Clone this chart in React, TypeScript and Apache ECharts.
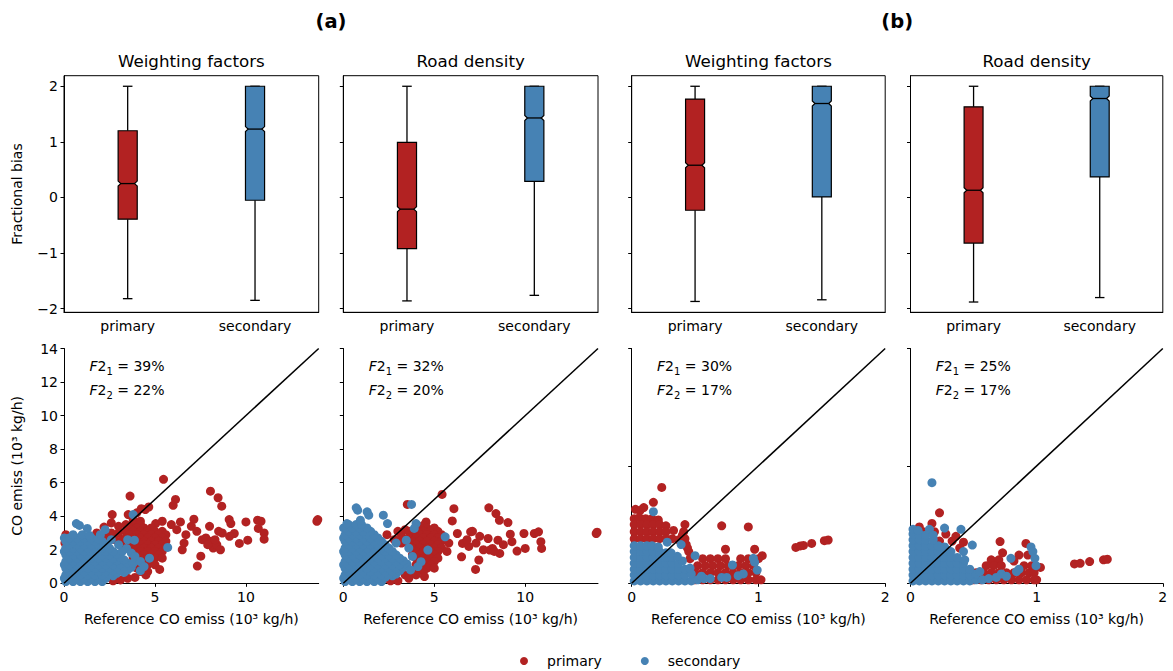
import React, { useEffect, useRef } from 'react';
import * as echarts from 'echarts';

const RED = '#b22222';
const BLUE = '#4682b4';
const FONT = 'DejaVu Sans';

const categories = ['primary', 'secondary'];
const panelTitles = ['Weighting factors', 'Road density', 'Weighting factors', 'Road density'];
const groupLabels = ['(a)', '(b)'];
const f2One = [39, 32, 30, 25];
const f2Two = [22, 20, 17, 17];

// box stats: [low whisker, Q1, median, Q3, high whisker]
const boxWfA_primary = [-1.82, -0.39, 0.25, 1.2, 2.0];
const boxWfA_secondary = [-1.85, -0.05, 1.23, 2.0, 2.0];
const boxRdA_primary = [-1.86, -0.92, -0.21, 0.99, 2.0];
const boxRdA_secondary = [-1.76, 0.29, 1.43, 2.0, 2.0];
const boxWfB_primary = [-1.87, -0.23, 0.58, 1.77, 2.0];
const boxWfB_secondary = [-1.84, 0.01, 1.69, 2.0, 2.0];
const boxRdB_primary = [-1.88, -0.82, 0.13, 1.63, 2.0];
const boxRdB_secondary = [-1.8, 0.37, 1.78, 2.0, 2.0];
const NOTCH = 0.045;

const fbTicks = [-2, -1, 0, 1, 2];
const xTicksA = [0, 5, 10];
const xTicksB = [0, 1, 2];

const p1Pri = [
  [0.1, 2.9], [0.05, 2.4],
  [2.7, 0.15], [3.1, 0.2], [3.5, 0.3], [3.9, 0.35], [2.5, 0.35],
  [1.8, 3.0], [2.2, 3.35], [2.65, 4.1], [2.6, 3.6], [3.0, 3.4], [3.0, 3.0], [2.6, 3.0], [2.3, 2.8], [2.8, 2.6], [3.2, 2.6], [3.2, 2.2],
  [3.53, 4.1], [3.63, 5.2], [3.8, 3.8], [4.0, 4.2], [4.25, 4.45], [4.47, 4.4], [4.66, 4.55], [4.2, 3.7],
  [3.4, 3.5], [3.8, 3.5], [4.2, 3.5], [5.04, 3.56], [5.4, 3.7],
  [3.6, 3.3], [4.0, 3.3], [4.4, 3.3], [4.8, 3.3],
  [3.4, 3.1], [3.8, 3.1], [4.2, 3.1], [4.6, 3.1], [5.0, 3.1], [5.4, 3.1],
  [3.6, 2.9], [4.0, 2.9], [4.4, 2.9], [4.8, 2.9], [5.2, 2.9], [5.6, 2.9],
  [3.4, 2.7], [3.8, 2.7], [4.2, 2.7], [4.6, 2.7], [5.0, 2.7], [5.4, 2.7],
  [3.6, 2.5], [4.0, 2.5], [4.4, 2.5], [4.8, 2.5], [5.2, 2.5], [5.6, 2.5],
  [3.8, 2.3], [4.2, 2.3], [4.6, 2.3], [5.0, 2.3], [5.4, 2.3],
  [3.6, 2.1], [4.0, 2.1], [4.4, 2.1], [4.8, 2.1], [5.2, 2.1],
  [3.8, 1.9], [4.2, 1.9], [4.6, 1.9], [5.0, 1.9], [5.4, 1.9],
  [4.0, 1.7], [4.4, 1.7], [4.8, 1.7], [5.2, 1.7],
  [3.8, 1.5], [4.2, 1.5], [4.6, 1.5], [5.0, 1.5],
  [4.0, 1.3], [4.4, 1.3], [4.8, 1.3],
  [4.2, 1.1], [4.6, 1.1], [5.0, 1.1],
  [4.0, 0.9], [4.4, 0.9], [5.26, 0.83],
  [4.2, 0.7], [4.6, 0.7], [4.5, 0.5],
  [5.9, 3.5], [6.2, 3.2], [6.4, 3.66], [5.6, 2.18], [5.4, 1.5], [6.0, 4.65], [6.13, 5.0], [5.47, 6.2],
  [7.14, 3.82], [7.0, 3.4], [7.3, 3.1], [6.7, 2.9], [6.6, 2.4], [6.5, 2.0], [7.52, 1.62], [7.33, 1.03], [7.6, 2.6], [7.8, 2.7], [8.1, 2.5], [8.2, 2.1], [8.4, 2.3], [8.6, 2.0], [8.7, 3.0], [8.5, 3.1], [8.05, 5.49], [8.47, 5.1], [8.67, 4.6], [9.08, 3.8], [9.17, 3.56], [10.0, 3.66], [10.64, 3.76], [10.83, 3.7], [10.68, 3.27], [11.0, 3.0], [11.0, 2.63], [10.1, 2.57], [9.64, 2.38], [9.36, 2.97], [9.1, 2.8], [8.0, 3.4], [7.9, 2.3], [8.3, 2.6], [13.9, 3.7], [13.95, 3.8],
];
const p1Sec = [
  [0.02, 0.3], [0.02, 1.1], [0.02, 1.9], [0.02, 2.7],
  [0.1, 0.1], [0.5, 0.1], [0.9, 0.1], [1.3, 0.1], [1.7, 0.1], [2.1, 0.1],
  [0.3, 0.3], [0.7, 0.3], [1.1, 0.3], [1.5, 0.3], [1.9, 0.3], [2.3, 0.3], [2.7, 0.45],
  [0.1, 0.5], [0.5, 0.5], [0.9, 0.5], [1.3, 0.5], [1.7, 0.5], [2.1, 0.5], [2.5, 0.55], [2.9, 0.6], [3.3, 0.65],
  [0.3, 0.7], [0.7, 0.7], [1.1, 0.7], [1.5, 0.7], [1.9, 0.7], [2.3, 0.7], [2.7, 0.75], [3.1, 0.8], [3.5, 0.8],
  [0.1, 0.9], [0.5, 0.9], [0.9, 0.9], [1.3, 0.9], [1.7, 0.9], [2.1, 0.9], [2.5, 0.9], [2.9, 0.95], [3.3, 1.0], [3.7, 0.95],
  [0.3, 1.1], [0.7, 1.1], [1.1, 1.1], [1.5, 1.1], [1.9, 1.1], [2.3, 1.1], [2.7, 1.1], [3.1, 1.15], [3.5, 1.2],
  [0.1, 1.3], [0.5, 1.3], [0.9, 1.3], [1.3, 1.3], [1.7, 1.3], [2.1, 1.3], [2.5, 1.3], [2.9, 1.35], [3.3, 1.4],
  [0.3, 1.5], [0.7, 1.5], [1.1, 1.5], [1.5, 1.5], [1.9, 1.5], [2.3, 1.5], [2.7, 1.5], [3.1, 1.55],
  [0.1, 1.7], [0.5, 1.7], [0.9, 1.7], [1.3, 1.7], [1.7, 1.7], [2.1, 1.7], [2.5, 1.7], [2.9, 1.75],
  [0.3, 1.9], [0.7, 1.9], [1.1, 1.9], [1.5, 1.9], [1.9, 1.9], [2.3, 1.9], [2.7, 1.9],
  [0.1, 2.1], [0.5, 2.1], [0.9, 2.1], [1.3, 2.1], [1.7, 2.1], [2.1, 2.1], [2.5, 2.1],
  [0.3, 2.3], [0.7, 2.3], [1.1, 2.3], [1.5, 2.3], [1.9, 2.3], [2.3, 2.3],
  [0.1, 2.5], [0.5, 2.5], [0.9, 2.5], [1.3, 2.5], [1.7, 2.5], [2.1, 2.5],
  [0.3, 2.7], [0.7, 2.7], [1.1, 2.7], [1.5, 2.7], [1.9, 2.65],
  [0.5, 2.9], [1.0, 2.9], [1.4, 2.85],
  [0.68, 3.56], [0.85, 3.45], [1.28, 3.27], [2.26, 3.2], [2.0, 2.9], [2.6, 2.6],
  [3.8, 4.1], [3.5, 2.6], [3.87, 2.57], [3.44, 2.08], [3.7, 1.8], [3.9, 1.6], [3.2, 1.9], [3.8, 1.2], [4.2, 1.3], [4.2, 0.75], [4.4, 1.0], [4.7, 1.5], [5.7, 2.14], [3.0, 2.3],
];
const p2Pri = [
  [3.52, 4.7], [5.43, 5.3], [6.08, 4.45], [5.99, 3.72], [4.55, 3.66], [4.4, 3.45],
  [2.4, 2.9], [2.8, 2.6], [3.2, 2.8], [3.0, 3.1], [3.4, 3.2], [3.2, 2.4],
  [4.2, 3.3], [4.6, 3.3], [5.0, 3.3],
  [3.6, 3.1], [4.0, 3.1], [4.4, 3.1], [4.8, 3.1], [5.2, 3.1],
  [3.8, 2.9], [4.2, 2.9], [4.6, 2.9], [5.0, 2.9], [5.4, 2.9],
  [3.6, 2.7], [4.0, 2.7], [4.4, 2.7], [4.8, 2.7], [5.2, 2.7],
  [3.8, 2.5], [4.2, 2.5], [4.6, 2.5], [5.0, 2.5], [5.4, 2.5],
  [3.6, 2.3], [4.0, 2.3], [4.4, 2.3], [4.8, 2.3], [5.2, 2.3],
  [3.8, 2.1], [4.2, 2.1], [4.6, 2.1], [5.0, 2.1], [5.4, 2.1],
  [4.0, 1.9], [4.4, 1.9], [4.8, 1.9], [5.2, 1.9],
  [3.8, 1.7], [4.2, 1.7], [4.6, 1.7], [5.0, 1.7],
  [4.0, 1.5], [4.4, 1.5], [4.8, 1.5], [5.2, 1.5],
  [4.2, 1.3], [4.6, 1.3], [5.0, 1.3],
  [4.0, 1.1], [4.4, 1.1], [4.8, 1.1],
  [4.2, 0.9], [4.6, 0.9], [5.0, 0.9],
  [3.8, 0.7], [4.4, 0.7],
  [3.4, 0.5], [4.0, 0.5],
  [2.4, 0.3], [2.8, 0.3], [3.6, 0.3], [4.46, 0.4],
  [2.6, 0.15], [3.0, 0.15],
  [6.27, 2.97], [6.55, 2.38], [6.5, 1.58], [7.0, 3.07], [7.1, 3.1], [7.27, 0.83], [7.45, 1.39], [7.96, 2.67], [8.0, 4.5], [8.39, 4.16], [8.58, 3.76], [9.05, 3.62], [9.18, 2.93], [9.27, 2.48], [8.5, 2.57], [8.2, 2.08], [8.6, 1.78], [8.05, 1.98], [9.55, 1.92], [10.0, 2.08], [9.93, 2.97], [10.5, 2.97], [10.73, 3.07], [10.86, 2.48], [10.9, 2.08], [7.5, 2.8], [7.3, 2.4], [6.9, 2.2], [6.8, 2.6], [7.7, 2.0], [8.3, 1.9], [8.8, 2.3], [5.8, 2.4], [5.7, 1.9], [13.9, 2.97], [13.95, 3.05],
];
const p2Sec = [
  [0.02, 0.3], [0.02, 1.1], [0.02, 1.9], [0.02, 2.7], [0.02, 3.3],
  [0.1, 0.1], [0.5, 0.1], [0.9, 0.1], [1.3, 0.1], [1.7, 0.1], [2.1, 0.1],
  [0.3, 0.3], [0.7, 0.3], [1.1, 0.3], [1.5, 0.3], [1.9, 0.3], [2.3, 0.35], [2.7, 0.45],
  [0.1, 0.5], [0.5, 0.5], [0.9, 0.5], [1.3, 0.5], [1.7, 0.5], [2.1, 0.5], [2.5, 0.5], [2.9, 0.55],
  [0.3, 0.7], [0.7, 0.7], [1.1, 0.7], [1.5, 0.7], [1.9, 0.7], [2.3, 0.7], [2.7, 0.7], [3.1, 0.75],
  [0.1, 0.9], [0.5, 0.9], [0.9, 0.9], [1.3, 0.9], [1.7, 0.9], [2.1, 0.9], [2.5, 0.9], [2.9, 0.9], [3.3, 0.95],
  [0.3, 1.1], [0.7, 1.1], [1.1, 1.1], [1.5, 1.1], [1.9, 1.1], [2.3, 1.1], [2.7, 1.1], [3.1, 1.1], [3.5, 1.15],
  [0.1, 1.3], [0.5, 1.3], [0.9, 1.3], [1.3, 1.3], [1.7, 1.3], [2.1, 1.3], [2.5, 1.3], [2.9, 1.3], [3.3, 1.35],
  [0.3, 1.5], [0.7, 1.5], [1.1, 1.5], [1.5, 1.5], [1.9, 1.5], [2.3, 1.5], [2.7, 1.5], [3.1, 1.5],
  [0.1, 1.7], [0.5, 1.7], [0.9, 1.7], [1.3, 1.7], [1.7, 1.7], [2.1, 1.7], [2.5, 1.7], [2.9, 1.7],
  [0.3, 1.9], [0.7, 1.9], [1.1, 1.9], [1.5, 1.9], [1.9, 1.9], [2.3, 1.9], [2.7, 1.9],
  [0.1, 2.1], [0.5, 2.1], [0.9, 2.1], [1.3, 2.1], [1.7, 2.1], [2.1, 2.1], [2.5, 2.1],
  [0.3, 2.3], [0.7, 2.3], [1.1, 2.3], [1.5, 2.3], [1.9, 2.3], [2.3, 2.3],
  [0.1, 2.5], [0.5, 2.5], [0.9, 2.5], [1.3, 2.5], [1.7, 2.5], [2.1, 2.5],
  [0.3, 2.7], [0.7, 2.7], [1.1, 2.7], [1.5, 2.7], [1.9, 2.7],
  [0.1, 2.9], [0.5, 2.9], [0.9, 2.9], [1.3, 2.9], [1.7, 2.9],
  [0.3, 3.1], [0.7, 3.1], [1.1, 3.1], [1.5, 3.1],
  [0.1, 3.3], [0.5, 3.3], [0.9, 3.3], [1.3, 3.3],
  [0.3, 3.5], [0.7, 3.5], [1.0, 3.5],
  [0.2, 3.56], [0.94, 3.76], [0.71, 4.5], [0.79, 4.36], [1.31, 4.26], [1.4, 4.06], [2.2, 4.06], [3.75, 4.7], [2.43, 3.56], [4.0, 3.56], [3.9, 3.27], [5.6, 2.77], [4.65, 1.98], [4.27, 1.29], [3.46, 2.57], [3.6, 2.1], [3.8, 1.6], [4.1, 1.0], [3.7, 0.8], [2.9, 2.4],
];
const p3Pri = [
  [0.237, 0.817], [0.171, 0.69], [0.03, 0.63], [0.066, 0.62], [0.095, 0.645],
  [0.02, 0.55], [0.06, 0.56], [0.11, 0.55], [0.16, 0.55], [0.21, 0.54],
  [0.02, 0.5], [0.07, 0.5], [0.12, 0.5], [0.17, 0.5], [0.22, 0.5], [0.27, 0.49], [0.42, 0.5],
  [0.02, 0.44], [0.07, 0.44], [0.12, 0.44], [0.17, 0.44], [0.22, 0.44], [0.27, 0.44], [0.33, 0.45], [0.41, 0.44],
  [0.02, 0.38], [0.07, 0.38], [0.12, 0.38], [0.17, 0.38], [0.22, 0.38], [0.27, 0.38], [0.32, 0.38], [0.37, 0.37], [0.42, 0.38],
  [0.4, 0.41], [0.43, 0.33], [0.45, 0.27], [0.46, 0.21], [0.44, 0.3],
  [0.71, 0.49], [0.92, 0.48], [0.74, 0.29], [0.97, 0.29], [1.03, 0.235],
  [0.56, 0.21], [0.62, 0.21], [0.68, 0.21], [0.74, 0.21], [0.86, 0.21], [0.92, 0.21], [1.0, 0.21],
  [0.52, 0.15], [0.58, 0.15], [0.64, 0.15], [0.7, 0.15], [0.76, 0.15], [0.84, 0.15], [0.9, 0.15], [0.96, 0.15],
  [0.5, 0.09], [0.56, 0.09], [0.62, 0.09], [0.68, 0.09], [0.74, 0.09], [0.8, 0.09], [0.86, 0.09], [0.92, 0.09], [0.98, 0.09],
  [0.5, 0.03], [0.56, 0.03], [0.62, 0.03], [0.68, 0.03], [0.74, 0.03], [0.8, 0.03], [0.86, 0.03], [0.92, 0.03], [0.98, 0.03], [1.02, 0.03],
  [1.295, 0.306], [1.33, 0.318], [1.355, 0.323], [1.42, 0.34], [1.52, 0.363], [1.55, 0.369],
];
const p3Sec = [
  [0.02, 0.02], [0.07, 0.02], [0.12, 0.02], [0.17, 0.02], [0.22, 0.02], [0.27, 0.02], [0.32, 0.02], [0.37, 0.02], [0.42, 0.02], [0.47, 0.02], [0.52, 0.03], [0.57, 0.04],
  [0.02, 0.07], [0.07, 0.07], [0.12, 0.07], [0.17, 0.07], [0.22, 0.07], [0.27, 0.07], [0.32, 0.07], [0.37, 0.07], [0.42, 0.07], [0.47, 0.08],
  [0.02, 0.12], [0.07, 0.12], [0.12, 0.12], [0.17, 0.12], [0.22, 0.12], [0.27, 0.12], [0.32, 0.12], [0.37, 0.12], [0.42, 0.12], [0.46, 0.13],
  [0.02, 0.17], [0.07, 0.17], [0.12, 0.17], [0.17, 0.17], [0.22, 0.17], [0.27, 0.17], [0.32, 0.17], [0.37, 0.17], [0.4, 0.19],
  [0.02, 0.22], [0.07, 0.22], [0.12, 0.22], [0.17, 0.22], [0.22, 0.22], [0.27, 0.22], [0.32, 0.22], [0.36, 0.23],
  [0.02, 0.27], [0.07, 0.27], [0.12, 0.27], [0.17, 0.27], [0.22, 0.27], [0.27, 0.26], [0.31, 0.26],
  [0.02, 0.32], [0.07, 0.32], [0.12, 0.32], [0.16, 0.32], [0.21, 0.31], [0.28, 0.35], [0.39, 0.33],
  [0.171, 0.61], [0.5, 0.235], [0.795, 0.156], [0.96, 0.213], [0.97, 0.18], [0.99, 0.113], [0.71, 0.05], [0.75, 0.05], [0.84, 0.065], [0.88, 0.08], [0.55, 0.06], [0.62, 0.04],
];
const p4Pri = [
  [0.23, 0.6], [0.17, 0.51], [0.07, 0.48], [0.1, 0.44], [0.19, 0.44], [0.23, 0.36], [0.28, 0.42], [0.12, 0.43], [0.33, 0.36], [0.39, 0.3], [0.42, 0.35], [0.36, 0.4],
  [0.71, 0.355], [0.915, 0.34], [0.73, 0.26], [0.86, 0.24], [0.93, 0.24], [1.03, 0.135], [1.0, 0.03],
  [0.64, 0.2], [0.7, 0.2], [0.82, 0.19],
  [0.6, 0.15], [0.66, 0.15], [0.72, 0.15], [0.9, 0.15], [0.96, 0.15],
  [0.52, 0.09], [0.58, 0.09], [0.64, 0.09], [0.7, 0.09], [0.76, 0.09], [0.82, 0.09], [0.88, 0.09], [0.94, 0.09], [0.98, 0.09],
  [0.5, 0.03], [0.56, 0.03], [0.62, 0.03], [0.68, 0.03], [0.74, 0.03], [0.8, 0.03], [0.86, 0.03], [0.92, 0.03], [0.98, 0.03],
  [1.3, 0.165], [1.345, 0.17], [1.42, 0.185], [1.53, 0.2], [1.56, 0.205],
];
const p4Sec = [
  [0.02, 0.02], [0.07, 0.02], [0.12, 0.02], [0.17, 0.02], [0.22, 0.02], [0.27, 0.02], [0.32, 0.02], [0.37, 0.02], [0.42, 0.02], [0.47, 0.02], [0.52, 0.03], [0.57, 0.03], [0.62, 0.04],
  [0.02, 0.07], [0.07, 0.07], [0.12, 0.07], [0.17, 0.07], [0.22, 0.07], [0.27, 0.07], [0.32, 0.07], [0.37, 0.07], [0.42, 0.07], [0.47, 0.07], [0.52, 0.08],
  [0.02, 0.12], [0.07, 0.12], [0.12, 0.12], [0.17, 0.12], [0.22, 0.12], [0.27, 0.12], [0.32, 0.12], [0.37, 0.12], [0.42, 0.12], [0.47, 0.12],
  [0.02, 0.17], [0.07, 0.17], [0.12, 0.17], [0.17, 0.17], [0.22, 0.17], [0.27, 0.17], [0.32, 0.17], [0.37, 0.17], [0.42, 0.17],
  [0.02, 0.22], [0.07, 0.22], [0.12, 0.22], [0.17, 0.22], [0.22, 0.22], [0.27, 0.22], [0.32, 0.22], [0.37, 0.22],
  [0.02, 0.27], [0.07, 0.27], [0.12, 0.27], [0.17, 0.27], [0.22, 0.27], [0.27, 0.27], [0.32, 0.27], [0.42, 0.27],
  [0.02, 0.32], [0.07, 0.32], [0.12, 0.32], [0.17, 0.32], [0.22, 0.32], [0.27, 0.31],
  [0.02, 0.37], [0.07, 0.37], [0.12, 0.37], [0.18, 0.37],
  [0.02, 0.42], [0.07, 0.42], [0.12, 0.41], [0.02, 0.46], [0.06, 0.45],
  [0.17, 0.857], [0.27, 0.47], [0.4, 0.46], [0.49, 0.326], [0.796, 0.213], [0.955, 0.31], [0.97, 0.27], [0.986, 0.213], [0.995, 0.15], [0.15, 0.46], [0.18, 0.41], [0.43, 0.2], [0.55, 0.1], [0.72, 0.08], [0.76, 0.06], [0.84, 0.1], [0.86, 0.12], [0.68, 0.05],
];
const diagA = [[0, 0], [14, 14]];
const diagB = [[0, 0], [2, 2]];

const LEFTS = [64, 343.3, 631.7, 910.5];
const WIDTHS = [254.7, 254.7, 253.5, 252.3];
const TOP_T = 75.7;
const TOP_H = 236.6;
const BOT_T = 348.5;
const BOT_H = 234.8;

const minus = (v: number) => (v < 0 ? '\u2212' + Math.abs(v) : String(v));

const renderBox = (params: any, api: any) => {
  const idx = api.value(0);
  const low = api.value(1), q1 = api.value(2), med = api.value(3), q3 = api.value(4), high = api.value(5);
  const cx = api.coord([idx, med])[0];
  const band = api.size([1, 0], [idx, 0])[0];
  const bw = band * 0.15;
  const Y = (v: number) => api.coord([idx, v])[1];
  const l = cx - bw / 2, r = cx + bw / 2;
  const nl = cx - bw * 0.36, nr = cx + bw * 0.36;
  const cl = cx - bw / 4, cr = cx + bw / 4;
  const yq1 = Y(q1), yq3 = Y(q3), ym = Y(med), ylo = Y(med - NOTCH), yhi = Y(med + NOTCH);
  const ln = { stroke: '#000', lineWidth: 1.3 };
  return {
    type: 'group',
    children: [
      { type: 'line', shape: { x1: cx, y1: yq1, x2: cx, y2: Y(low) }, style: ln },
      { type: 'line', shape: { x1: cx, y1: yq3, x2: cx, y2: Y(high) }, style: ln },
      { type: 'line', shape: { x1: cl, y1: Y(low), x2: cr, y2: Y(low) }, style: ln },
      { type: 'line', shape: { x1: cl, y1: Y(high), x2: cr, y2: Y(high) }, style: ln },
      {
        type: 'polygon',
        shape: { points: [[l, yq1], [r, yq1], [r, ylo], [nr, ym], [r, yhi], [r, yq3], [l, yq3], [l, yhi], [nl, ym], [l, ylo]] },
        style: { fill: idx === 0 ? RED : BLUE, stroke: '#000', lineWidth: 1.2 },
      },
      { type: 'line', shape: { x1: nl, y1: ym, x2: nr, y2: ym }, style: ln },
    ],
  };
};

export default function App() {
  const ref = useRef<HTMLDivElement>(null);
  useEffect(() => {
    if (!ref.current) return;
    const chart = echarts.init(ref.current, null, { renderer: 'svg' });
    const boxSets = [
      [boxWfA_primary, boxWfA_secondary],
      [boxRdA_primary, boxRdA_secondary],
      [boxWfB_primary, boxWfB_secondary],
      [boxRdB_primary, boxRdB_secondary],
    ];
    const scat = [
      [p1Pri, p1Sec],
      [p2Pri, p2Sec],
      [p3Pri, p3Sec],
      [p4Pri, p4Sec],
    ];
    const axisLineStyle = { color: '#000', width: 1 };
    const tickStyle = { color: '#000', width: 1 };
    const labelStyle = { fontSize: 14, color: '#000', fontFamily: FONT };
    const grid: any[] = [];
    const xAxis: any[] = [];
    const yAxis: any[] = [];
    const series: any[] = [];
    const graphic: any[] = [];
    for (let i = 0; i < 4; i++) {
      grid.push({ left: LEFTS[i], top: TOP_T, width: WIDTHS[i], height: TOP_H, show: true, borderColor: '#000', borderWidth: 1, backgroundColor: 'transparent' });
    }
    for (let i = 0; i < 4; i++) {
      grid.push({ left: LEFTS[i], top: BOT_T, width: WIDTHS[i], height: BOT_H, show: false });
    }
    for (let i = 0; i < 4; i++) {
      xAxis.push({
        type: 'category', gridIndex: i, data: categories,
        axisLine: { onZero: false, lineStyle: axisLineStyle },
        axisTick: { alignWithLabel: true, length: 3.5, lineStyle: tickStyle },
        axisLabel: { ...labelStyle, margin: 7 },
        splitLine: { show: false },
      });
      yAxis.push({
        type: 'value', gridIndex: i, min: -2.065, max: 2.19,
        name: i === 0 ? 'Fractional bias' : '', nameLocation: 'middle', nameGap: 40,
        nameTextStyle: { fontSize: 14, color: '#000', fontFamily: FONT },
        axisLine: { show: true, onZero: false, lineStyle: axisLineStyle },
        axisTick: { show: true, length: 3.5, lineStyle: tickStyle, customValues: fbTicks },
        axisLabel: { show: i === 0, ...labelStyle, margin: 6, customValues: fbTicks, formatter: (v: number) => minus(v) },
        splitLine: { show: false },
      });
      series.push({
        type: 'custom', xAxisIndex: i, yAxisIndex: i, renderItem: renderBox,
        encode: { x: 0, y: [1, 2, 3, 4, 5] },
        data: boxSets[i].map((b, k) => [k, ...b]),
        silent: true,
      });
    }
    for (let i = 0; i < 4; i++) {
      const g = 4 + i;
      const isA = i < 2;
      const xt = isA ? xTicksA : xTicksB;
      xAxis.push({
        type: 'value', gridIndex: g, min: 0, max: isA ? 14 : 2,
        name: 'Reference CO emiss (10\u00b3 kg/h)', nameLocation: 'middle', nameGap: 29,
        nameTextStyle: { fontSize: 14, color: '#000', fontFamily: FONT },
        axisLine: { onZero: false, lineStyle: axisLineStyle },
        axisTick: { length: 3.5, lineStyle: tickStyle, customValues: xt },
        axisLabel: { ...labelStyle, margin: 7, customValues: xt },
        splitLine: { show: false },
      });
      yAxis.push({
        type: 'value', gridIndex: g, min: 0, max: isA ? 14 : 2, interval: isA ? 2 : 1,
        name: i === 0 ? 'CO emiss (10\u00b3 kg/h)' : '', nameLocation: 'middle', nameGap: 40,
        nameTextStyle: { fontSize: 14, color: '#000', fontFamily: FONT },
        axisLine: { show: true, onZero: false, lineStyle: axisLineStyle },
        axisTick: { show: true, length: 3.5, lineStyle: tickStyle },
        axisLabel: { show: i === 0, ...labelStyle, margin: 6 },
        splitLine: { show: false },
      });
      series.push({
        type: 'scatter', name: 'primary', xAxisIndex: g, yAxisIndex: g, data: scat[i][0],
        symbol: 'circle', symbolSize: 9, itemStyle: { color: RED, opacity: 1 }, silent: true,
      });
      series.push({
        type: 'scatter', name: 'secondary', xAxisIndex: g, yAxisIndex: g, data: scat[i][1],
        symbol: 'circle', symbolSize: 9, itemStyle: { color: BLUE, opacity: 1 }, silent: true,
      });
      series.push({
        type: 'line', xAxisIndex: g, yAxisIndex: g, data: isA ? diagA : diagB,
        symbol: 'none', lineStyle: { color: '#000', width: 1.5 }, silent: true,
      });
      const ax = LEFTS[i] + 0.1 * WIDTHS[i];
      const rich = {
        i: { fontSize: 14, fontFamily: FONT, fontStyle: 'italic', lineHeight: 20, fill: '#000' },
        n: { fontSize: 14, fontFamily: FONT, lineHeight: 20, fill: '#000' },
        s: { fontSize: 10, fontFamily: FONT, lineHeight: 10, verticalAlign: 'bottom', fill: '#000' },
      };
      graphic.push({
        type: 'text', x: ax, y: 366,
        style: { text: '{i|F}{n|2}{s|1}{n| = ' + f2One[i] + '%}', rich, align: 'left', verticalAlign: 'middle' },
      });
      graphic.push({
        type: 'text', x: ax, y: 390,
        style: { text: '{i|F}{n|2}{s|2}{n| = ' + f2Two[i] + '%}', rich, align: 'left', verticalAlign: 'middle' },
      });
    }
    for (let i = 0; i < 4; i++) {
      graphic.push({
        type: 'text', x: LEFTS[i] + WIDTHS[i] / 2, y: 61,
        style: { text: panelTitles[i], fontSize: 16.7, fontFamily: FONT, fill: '#000', align: 'center', verticalAlign: 'middle' },
      });
    }
    for (let k = 0; k < 2; k++) {
      const a = LEFTS[2 * k], b = LEFTS[2 * k + 1] + WIDTHS[2 * k + 1];
      graphic.push({
        type: 'text', x: (a + b) / 2, y: 21,
        style: { text: groupLabels[k], fontSize: 19.5, fontWeight: 'bold', fontFamily: FONT, fill: '#000', align: 'center', verticalAlign: 'middle' },
      });
    }
    chart.setOption({
      animation: false,
      backgroundColor: '#fff',
      textStyle: { fontFamily: FONT },
      grid, xAxis, yAxis, series, graphic,
      legend: {
        data: [{ name: 'primary', icon: 'circle' }, { name: 'secondary', icon: 'circle' }],
        left: 515, top: 649, itemWidth: 8, itemHeight: 8, itemGap: 39,
        textStyle: { fontSize: 14, color: '#000', fontFamily: FONT, padding: [0, 0, 0, 14] },
        selectedMode: false,
      },
    });
    return () => chart.dispose();
  }, []);
  return <div ref={ref} style={{ position: 'fixed', left: 0, top: 0, width: 1173, height: 671 }} />;
}
